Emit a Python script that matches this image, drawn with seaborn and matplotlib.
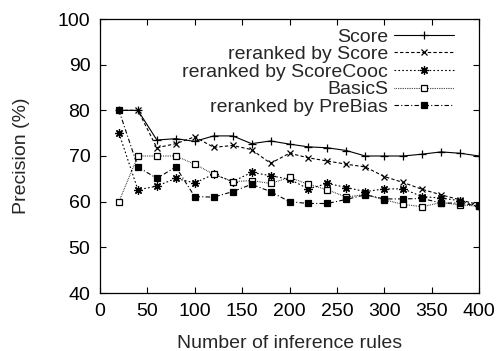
import matplotlib
matplotlib.use("Agg")
import matplotlib.pyplot as plt
import seaborn as sns

rules = [20, 40, 60, 80, 100, 120, 140, 160, 180, 200,
         220, 240, 260, 280, 300, 320, 340, 360, 380, 400]
score = [80, 80, 73.5, 73.8, 73.2, 74.4, 74.4, 72.7, 73.3, 72.6,
         72.0, 71.8, 71.2, 70.0, 70.0, 70.0, 70.4, 70.9, 70.6, 70.0]
rerank_score = [80, 80, 71.8, 72.7, 74.2, 71.9, 72.3, 71.4, 68.4, 70.6,
                69.6, 68.9, 68.2, 67.6, 65.5, 64.2, 62.7, 61.5, 60.4, 59.3]
rerank_cooc = [75, 62.6, 63.4, 65.1, 64.1, 66.0, 64.4, 66.4, 65.7, 64.9,
               62.8, 64.0, 63.1, 62.2, 62.8, 62.8, 61.1, 60.8, 60.2, 59.0]
basics = [60, 70, 70, 70, 68.2, 66.0, 64.4, 64.6, 64.0, 65.3,
          63.8, 62.6, 61.0, 61.6, 60.4, 59.4, 58.9, 59.8, 59.3, 59.0]
prebias = [80, 67.6, 65.1, 67.6, 61.1, 61.0, 62.2, 63.8, 62.2, 60.0,
           59.6, 59.6, 60.5, 61.5, 60.6, 60.6, 60.7, 59.7, 59.7, 59.0]

labels = ["Score", "reranked by Score", "reranked by ScoreCooc",
          "BasicS", "reranked by PreBias"]
series = [score, rerank_score, rerank_cooc, basics, prebias]

sns.set_theme(style="ticks")
plt.rcParams["font.family"] = ["Liberation Sans", "DejaVu Sans"]
FS = 14

fig = plt.figure(figsize=(4.97, 3.51), dpi=100)
ax = fig.add_axes([100 / 497, 1 - 293 / 351, 379 / 497, 274 / 351])

styles = [
    dict(marker="+", linestyle="-", ms=6, mew=0.9),
    dict(marker="x", linestyle=(0, (3, 2)), ms=5, mew=0.9),
    dict(marker=(8, 2, 0), linestyle=(0, (1.5, 2)), ms=6, mew=0.9),
    dict(marker="s", linestyle=(0, (0.6, 1.0)), ms=5, mew=0.9, mfc="white"),
    dict(marker="s", linestyle=(0, (4, 2, 1, 2)), ms=5, mew=0.9, mfc="black"),
]
for lab, vals, st in zip(labels, series, styles):
    sns.lineplot(x=rules, y=vals, ax=ax, color="black", lw=0.8,
                 mec="black", label=lab, **st)

ax.set_xlim(0, 400)
ax.set_ylim(40, 100)
ax.set_xticks(range(0, 401, 50))
ax.set_yticks(range(40, 101, 10))
ax.tick_params(direction="in", top=True, right=True, length=4, width=0.8,
               labelsize=FS, colors="black", pad=7)
for sp in ax.spines.values():
    sp.set_linewidth(0.9)
    sp.set_color("black")
ax.set_xlabel("Number of inference rules", fontsize=FS, labelpad=11)
ax.set_ylabel("Precision (%)", fontsize=FS, labelpad=20)

leg = ax.legend(loc="upper right", bbox_to_anchor=(454 / 497, 1 - 28 / 351),
                bbox_transform=fig.transFigure, frameon=False, fontsize=FS,
                markerfirst=False, handlelength=3.1, handletextpad=0.3,
                labelspacing=0.0, borderpad=0, borderaxespad=0)

fig.savefig("out.png", dpi=100)
